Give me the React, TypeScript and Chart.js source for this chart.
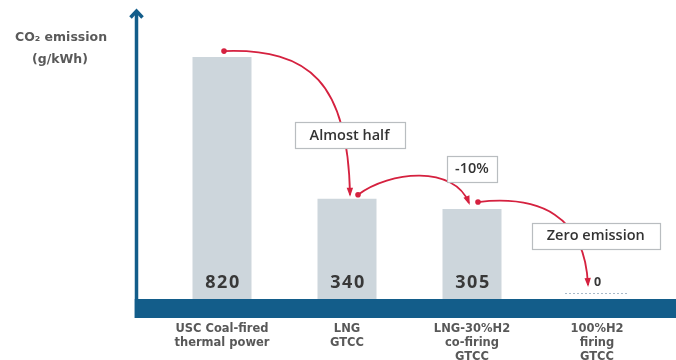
import { useEffect, useRef } from "react";
import { Chart, registerables } from "chart.js";

Chart.register(...registerables);

// Generation technologies (multi-line tick labels)
const categories: string[][] = [
  ["USC Coal-fired", "thermal power"],
  ["LNG", "GTCC"],
  ["LNG-30%H2", "co-firing", "GTCC"],
  ["100%H2", "firing", "GTCC"],
];

// CO2 emission, g/kWh
const emissions: number[] = [820, 340, 305, 0];

const axisTitle: string[] = ["CO₂ emission", "(g/kWh)"];

// Callout boxes placed on the category / value grid
const calloutText: string[] = ["Almost half", "-10%", "Zero emission"];
const calloutCat: number[] = [1.02, 2.0, 2.99];
const calloutValue: number[] = [556, 442, 215];

const NAVY = "#135d8a";
const RED = "#d5213f";
const FONT = "'Open Sans', 'DejaVu Sans', sans-serif";
const WIDE = "'DejaVu Sans', sans-serif";

function cubicArrow(ctx: CanvasRenderingContext2D, p0: number[], p1: number[], p2: number[], p3: number[]) {
  ctx.save();
  ctx.strokeStyle = RED;
  ctx.fillStyle = RED;
  ctx.lineWidth = 1.8;
  ctx.beginPath();
  ctx.moveTo(p0[0], p0[1]);
  ctx.bezierCurveTo(p1[0], p1[1], p2[0], p2[1], p3[0], p3[1]);
  ctx.stroke();
  // start dot
  ctx.beginPath();
  ctx.arc(p0[0], p0[1], 2.8, 0, Math.PI * 2);
  ctx.fill();
  // head
  const ang = Math.atan2(p3[1] - p2[1], p3[0] - p2[0]);
  const len = 7;
  const hw = 3.2;
  ctx.beginPath();
  ctx.moveTo(p3[0] + Math.cos(ang) * 2, p3[1] + Math.sin(ang) * 2);
  ctx.lineTo(p3[0] - Math.cos(ang) * len - Math.sin(ang) * hw, p3[1] - Math.sin(ang) * len + Math.cos(ang) * hw);
  ctx.lineTo(p3[0] - Math.cos(ang) * len + Math.sin(ang) * hw, p3[1] - Math.sin(ang) * len - Math.cos(ang) * hw);
  ctx.closePath();
  ctx.fill();
  ctx.restore();
}

const decorPlugin = {
  id: "decor",
  afterDraw(chart: any) {
    const { ctx, chartArea: area, scales } = chart;
    const xs = scales.x;
    const ys = scales.y;
    const W = chart.width;
    const axisX = area.left - 23;
    const bandTop = area.bottom;
    const bandBottom = area.bottom + 19;

    ctx.save();
    // base band
    ctx.fillStyle = NAVY;
    ctx.fillRect(axisX - 1.75, bandTop, W - axisX + 2, bandBottom - bandTop);

    // vertical axis with arrow
    ctx.strokeStyle = NAVY;
    ctx.lineWidth = 3.5;
    ctx.beginPath();
    ctx.moveTo(axisX, bandBottom);
    ctx.lineTo(axisX, 12);
    ctx.stroke();
    ctx.lineJoin = "miter";
    ctx.beginPath();
    ctx.moveTo(axisX - 6, 17.5);
    ctx.lineTo(axisX, 11);
    ctx.lineTo(axisX + 6, 17.5);
    ctx.stroke();

    // axis title
    ctx.fillStyle = "#5a5a5a";
    ctx.font = `bold 12.5px ${WIDE}`;
    ctx.textAlign = "center";
    ctx.textBaseline = "middle";
    ctx.fillText(axisTitle[0], 61, 38);
    ctx.fillText(axisTitle[1], 60, 60);

    // value labels
    const meta = chart.getDatasetMeta(0);
    emissions.forEach((v, i) => {
      const bar = meta.data[i];
      const cx = bar.x;
      if (v > 0) {
        ctx.fillStyle = "#383838";
        ctx.font = `700 18px ${FONT}`;
        (ctx as any).letterSpacing = "1.5px";
        ctx.textAlign = "center";
        ctx.fillText(String(v), cx + 1, area.bottom - 16);
        (ctx as any).letterSpacing = "0px";
      } else {
        // empty bar outline
        ctx.strokeStyle = "#a9b9c9";
        ctx.lineWidth = 1;
        ctx.setLineDash([2, 2]);
        ctx.beginPath();
        ctx.moveTo(cx - 32, area.bottom - 5.5);
        ctx.lineTo(cx + 31, area.bottom - 5.5);
        ctx.stroke();
        ctx.setLineDash([]);
        ctx.fillStyle = "#383838";
        ctx.font = `700 12.5px ${FONT}`;
        ctx.textAlign = "center";
        ctx.fillText(String(v), cx + 0.5, area.bottom - 17);
      }
    });

    // reduction arrows between bars
    const pt = (i: number) => [meta.data[i].x, ys.getPixelForValue(emissions[i])];
    const b0 = pt(0), b1 = pt(1), b2 = pt(2), b3 = pt(3);
    {
      const p0 = [b0[0] + 2, b0[1] - 6];
      const p3 = [b1[0] + 3, b1[1] - 4];
      const dx = p3[0] - p0[0], dy = p3[1] - p0[1];
      cubicArrow(ctx, p0, [p0[0] + 0.68 * dx, p0[1] - 3], [p3[0] - 2, p0[1] + 0.22 * dy], p3);
    }
    {
      const p0 = [b1[0] + 11, b1[1] - 4];
      const p3 = [b2[0] - 3, b2[1] - 6];
      cubicArrow(ctx, p0, [p0[0] + 32, p0[1] - 24], [p3[0] - 15, p3[1] - 38], p3);
    }
    {
      const p0 = [b2[0] + 6, b2[1] - 7];
      const p3 = [b3[0] - 9, b3[1] - 14];
      cubicArrow(ctx, p0, [p0[0] + 61, p0[1] - 7], [p3[0] - 3, p3[1] - 70], p3);
    }

    // callout boxes
    ctx.font = `600 14.5px ${FONT}`;
    ctx.textAlign = "center";
    ctx.textBaseline = "middle";
    calloutText.forEach((t, i) => {
      const cx = xs.getPixelForValue(calloutCat[i]);
      const cy = ys.getPixelForValue(calloutValue[i]);
      const pad = t.length <= 4 ? 8 : 15;
      const w = Math.round(ctx.measureText(t).width + pad * 2);
      const h = 26;
      const x0 = Math.round(cx - w / 2) + 0.5;
      const y0 = Math.round(cy - h / 2) + 0.5;
      ctx.fillStyle = "#fff";
      ctx.fillRect(x0, y0, w, h);
      ctx.strokeStyle = "#b9bdc0";
      ctx.lineWidth = 1.2;
      ctx.strokeRect(x0, y0, w, h);
      ctx.fillStyle = "#333";
      ctx.fillText(t, cx, cy + 0.5);
    });
    ctx.restore();
  },
};

export default function App() {
  const canvasRef = useRef<HTMLCanvasElement | null>(null);

  useEffect(() => {
    const canvas = canvasRef.current;
    if (!canvas) return;
    const chart = new Chart(canvas, {
      type: "bar",
      data: {
        labels: categories,
        datasets: [
          {
            data: emissions,
            backgroundColor: "#cdd6dc",
            borderWidth: 0,
            barPercentage: 0.472,
            categoryPercentage: 1,
          },
        ],
      },
      options: {
        responsive: false,
        animation: false,
        devicePixelRatio: 1,
        layout: { padding: { left: 159.5, right: 16.5, top: 4, bottom: 0 } },
        plugins: {
          legend: { display: false },
          tooltip: { enabled: false },
        },
        scales: {
          x: {
            grid: { display: false, drawTicks: false },
            border: { display: false },
            ticks: {
              color: "#585858",
              font: { family: WIDE, size: 11.5, weight: "bold" as any, lineHeight: 1.22 },
              padding: 23,
              maxRotation: 0,
              autoSkip: false,
            },
            afterFit: (s: any) => {
              s.height = 61;
            },
          },
          y: {
            display: false,
            min: 0,
            max: 1000,
          },
        },
      },
      plugins: [decorPlugin],
    });
    return () => chart.destroy();
  }, []);

  return (
    <div style={{ position: "fixed", left: 0, top: 0, width: 676, height: 360, background: "#fff" }}>
      <canvas ref={canvasRef} width={676} height={360} />
    </div>
  );
}
